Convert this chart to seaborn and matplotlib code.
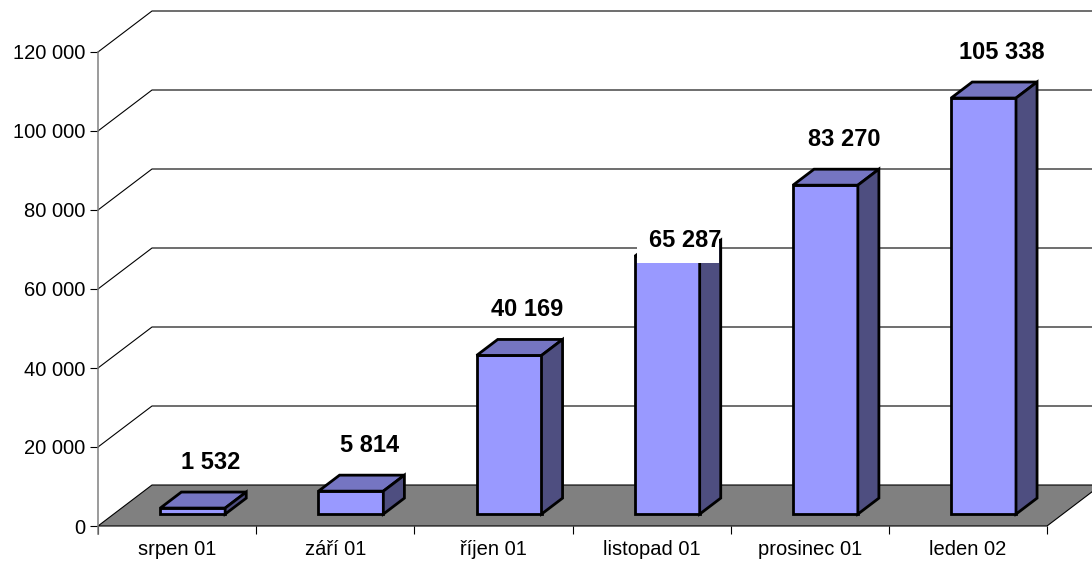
import matplotlib
matplotlib.use("Agg")
import matplotlib.pyplot as plt
from matplotlib.patches import Polygon, Rectangle
from matplotlib.ticker import FixedLocator, FuncFormatter
import seaborn as sns
import pandas as pd

# data
months = ["srpen 01", "září 01", "říjen 01", "listopad 01", "prosinec 01", "leden 02"]
counts = [1532, 5814, 40169, 65287, 83270, 105338]
y_ticks = [0, 20000, 40000, 60000, 80000, 100000, 120000]

FRONT = "#9999FF"
TOP = "#7575C2"
SIDE = "#4E4E80"
FLOOR = "#808080"

W_PX, H_PX = 1092, 563
AX_LEFT, AX_BOTTOM = 98, 526        # px of the front plane origin
CAT_PX = 949 / 6                    # px per category
VAL_PX = 474 / 120000               # px per value unit
DEPTH_PX = (54, 41)                 # oblique depth of the whole floor

sns.set_theme(style="white")
plt.rcParams["font.family"] = ["Liberation Sans", "DejaVu Sans"]

fig = plt.figure(figsize=(W_PX / 100, H_PX / 100), dpi=100)
ax = fig.add_axes([AX_LEFT / W_PX, (H_PX - AX_BOTTOM) / H_PX,
                   (W_PX - AX_LEFT) / W_PX, AX_BOTTOM / H_PX])

xmin = -0.5
xmax = xmin + (W_PX - AX_LEFT) / CAT_PX
ymax = AX_BOTTOM / VAL_PX
px_x = 1 / CAT_PX          # category units per px
px_y = 1 / VAL_PX          # value units per px
dxf = DEPTH_PX[0] * px_x
dyf = DEPTH_PX[1] * px_y

n = len(months)
bar_w = 0.41
d1, d2 = 0.29, 0.68
edge_lw = 2.0

df = pd.DataFrame({"month": months, "count": counts})

# back wall gridlines
for v in y_ticks[1:]:
    ax.plot([xmin, xmin + dxf, xmax + 1], [v, v + dyf, v + dyf],
            color="black", lw=0.8, zorder=1, clip_on=False)

# floor
floor = Polygon([(xmin, 0), (n - 0.5, 0), (n - 0.5 + dxf, dyf), (xmin + dxf, dyf)],
                closed=True, facecolor=FLOOR, edgecolor="black", lw=0.8,
                zorder=2, clip_on=False)
ax.add_patch(floor)

# front faces through seaborn, then pushed back into the floor depth
sns.barplot(data=df, x="month", y="count", color=FRONT, saturation=1,
            width=bar_w, edgecolor="black", linewidth=edge_lw, errorbar=None,
            ax=ax, zorder=4)

ddx = (d2 - d1) * dxf
ddy = (d2 - d1) * dyf
for i, (patch, v) in enumerate(zip(ax.patches[1:], counts)):
    x0 = i - bar_w / 2 + d1 * dxf
    y0 = d1 * dyf
    patch.set_x(x0)
    patch.set_y(y0)
    patch.set_facecolor(FRONT)
    x1 = x0 + bar_w
    y1 = y0 + v
    top = Polygon([(x0, y1), (x1, y1), (x1 + ddx, y1 + ddy), (x0 + ddx, y1 + ddy)],
                  closed=True, facecolor=TOP, edgecolor="black", lw=edge_lw, zorder=4)
    side = Polygon([(x1, y0), (x1 + ddx, y0 + ddy), (x1 + ddx, y1 + ddy), (x1, y1)],
                   closed=True, facecolor=SIDE, edgecolor="black", lw=edge_lw, zorder=4)
    ax.add_patch(top)
    ax.add_patch(side)

# value labels
label_dx = 0.215
label_off = 13000
moved = {"listopad 01": 5350}   # label pulled down onto the bar, white background
for i, (m, v) in enumerate(zip(months, counts)):
    txt = f"{v:,}".replace(",", " ")
    yb = v + moved.get(m, label_off)
    if m in moved:
        x0 = i - bar_w / 2 + d1 * dxf
        ax.add_patch(Rectangle((x0 + 2 * px_x, v + d1 * dyf - 7 * px_y),
                               bar_w + ddx - 4 * px_x,
                               yb + 21 * px_y - (v + d1 * dyf - 7 * px_y),
                               facecolor="white", edgecolor="none", zorder=5))
    ax.text(i + label_dx, yb, txt, ha="center", va="baseline",
            fontsize=17, fontweight="bold", color="black", zorder=6)

# axes styling
ax.set_xlim(xmin, xmax)
ax.set_ylim(0, ymax)
for s in ["top", "right", "bottom"]:
    ax.spines[s].set_visible(False)
ax.spines["left"].set_bounds(-8 * px_y, 120000)
ax.spines["left"].set_color("#808080")
ax.spines["left"].set_linewidth(1.1)

ax.yaxis.set_major_locator(FixedLocator(y_ticks))
ax.yaxis.set_major_formatter(FuncFormatter(lambda v, p: f"{int(v):,}".replace(",", " ")))
ax.tick_params(axis="y", which="major", direction="out", length=5.8, width=0.8,
               color="black", pad=3.5, labelsize=14.5, labelcolor="black", left=True)

ax.set_xticks(range(n))
ax.set_xticklabels(months)
ax.set_xticks([k - 0.5 for k in range(n + 1)], minor=True)
ax.tick_params(axis="x", which="major", length=0, pad=10, labelsize=14.5,
               labelcolor="black")
ax.tick_params(axis="x", which="minor", direction="out", length=5.8, width=0.8,
               color="black", bottom=True)
ax.set_xlabel("")
ax.set_ylabel("")
ax.grid(False)
ax.set_facecolor("white")
ax.patch.set_alpha(0)

fig.savefig("out.png", dpi=100)
